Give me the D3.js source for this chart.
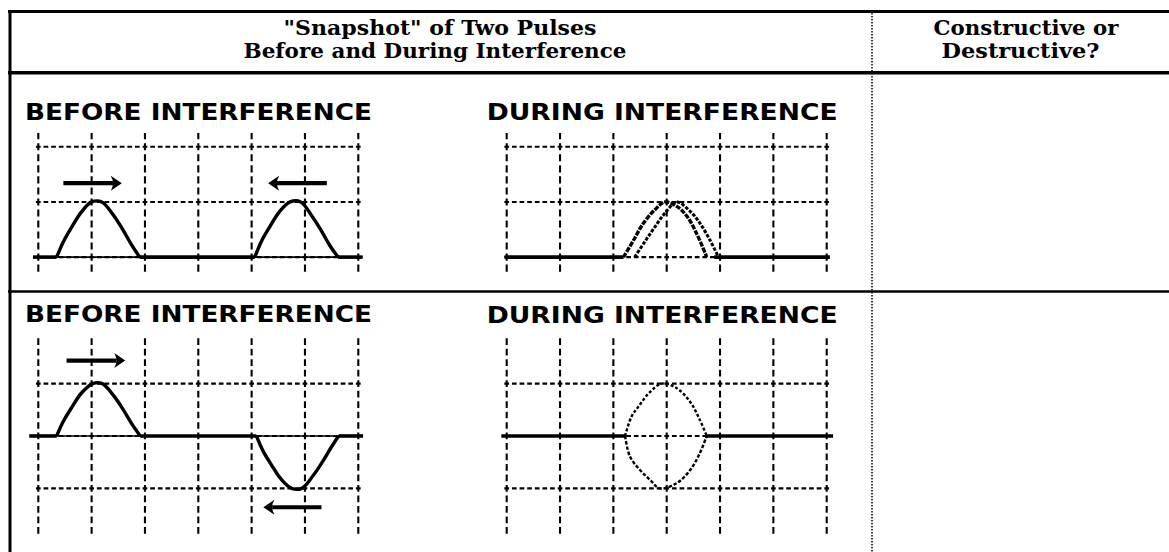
<!DOCTYPE html>
<html><head><meta charset="utf-8">
<script src="https://cdn.jsdelivr.net/npm/d3@7"></script>
<style>html,body{margin:0;padding:0;background:#fff;} svg{display:block;}</style>
</head><body>
<svg id="chart" width="1169" height="552"></svg>
<script>
// ---------- data ----------
const headerCol1 = ['"Snapshot" of Two Pulses', 'Before and During Interference'];
const headerCol2 = ['Constructive or', 'Destructive?'];
const panelTitles = ['BEFORE INTERFERENCE', 'DURING INTERFERENCE'];
const gridCols = [0, 1, 2, 3, 4, 5, 6];
const row1GridLines = [0, 1, 2];
const row2GridLines = [-1, 0, 1];

const pulseUpY   = [0, 0.28, 0.55, 0.82, 1, 1, 0.76, 0.49, 0.22, 0];
const pulseDownY = [0, -0.28, -0.55, -0.82, -1, -1, -0.76, -0.49, -0.22, 0];

const row1BeforeP1X = [0.345, 0.47, 0.63, 0.81, 1.0, 1.19, 1.41, 1.59, 1.75, 1.9];
const row1BeforeP2X = [4.06, 4.18, 4.34, 4.52, 4.72, 4.92, 5.12, 5.3, 5.46, 5.62];
const row2BeforeP1X = [0.345, 0.47, 0.63, 0.81, 1.02, 1.2, 1.42, 1.6, 1.76, 1.91];
const row2BeforeP2X = [4.09, 4.21, 4.37, 4.55, 4.75, 4.94, 5.15, 5.33, 5.49, 5.63];

const row1DuringAX = [2.19, 2.38, 2.56, 2.78, 2.97, 3.19, 3.38, 3.56, 3.75];
const row1DuringAY = [0, 0.31, 0.61, 0.86, 1, 0.92, 0.74, 0.43, 0];
const row1DuringBX = [2.40, 2.59, 2.78, 2.97, 3.19, 3.44, 3.62, 3.81, 3.97];
const row1DuringBY = [0, 0.28, 0.55, 0.80, 1, 0.83, 0.62, 0.31, 0];

const row2DuringTopX = [2.22, 2.34, 2.47, 2.66, 2.91, 3.19, 3.44, 3.62, 3.75];
const row2DuringTopY = [0, 0.37, 0.56, 0.81, 1, 0.91, 0.65, 0.31, 0];
const row2DuringBotX = [2.22, 2.31, 2.5, 2.69, 2.87, 3.19, 3.44, 3.62, 3.75];
const row2DuringBotY = [0, -0.39, -0.65, -0.84, -1, -0.9, -0.65, -0.33, 0];

// arrows: [fromX, toX(tip), y]
const row1Arrows = [[0.47, 1.565, 1.34], [5.41, 4.31, 1.34]];
const row2Arrows = [[0.53, 1.63, 1.44], [5.31, 4.22, -1.36]];

// ---------- layout ----------
const svg = d3.select('#chart');
const W = 1169, H = 552;
const black = '#000';

// table frame
svg.append('line').attr('x1', 8).attr('x2', W).attr('y1', 11.5).attr('y2', 11.5)
  .attr('stroke', black).attr('stroke-width', 3);
svg.append('line').attr('x1', 8).attr('x2', W).attr('y1', 72.7).attr('y2', 72.7)
  .attr('stroke', black).attr('stroke-width', 3.5);
svg.append('line').attr('x1', 8).attr('x2', W).attr('y1', 291.5).attr('y2', 291.5)
  .attr('stroke', black).attr('stroke-width', 2.5);
svg.append('line').attr('x1', 10).attr('x2', 10).attr('y1', 10).attr('y2', H)
  .attr('stroke', black).attr('stroke-width', 3);
svg.append('line').attr('x1', 872).attr('x2', 872).attr('y1', 13).attr('y2', H)
  .attr('stroke', black).attr('stroke-width', 1.5).attr('stroke-dasharray', '1.5,1.5');

// header text
function headText(str, x, y, w) {
  svg.append('text').attr('x', x).attr('y', y).text(str)
    .attr('font-family', '"DejaVu Serif", serif').attr('font-weight', 'bold')
    .attr('font-size', 19.5).attr('fill', black)
    .attr('textLength', w).attr('lengthAdjust', 'spacingAndGlyphs');
}
headText(headerCol1[0], 283.5, 35, 313);
headText(headerCol1[1], 243.5, 58.3, 383);
headText(headerCol2[0], 933.5, 35, 185);
headText(headerCol2[1], 941.5, 58.3, 158);

// panel title
function panelTitle(str, x, y, w) {
  svg.append('text').attr('x', x).attr('y', y).text(str)
    .attr('font-family', '"DejaVu Sans Condensed", "DejaVu Sans", sans-serif')
    .attr('font-weight', 'bold').attr('font-size', 23).attr('fill', black)
    .attr('textLength', w).attr('lengthAdjust', 'spacingAndGlyphs');
}

const line = d3.line().curve(d3.curveCatmullRom.alpha(0.5));

function drawPanel(p) {
  const g = svg.append('g');
  const x = d3.scaleLinear().domain([0, 6]).range(p.xRange);
  const y = d3.scaleLinear().domain(p.yDomain).range(p.yRange);
  const cellX = x(1) - x(0);
  const cellY = y(0) - y(1);
  const top = y(p.yDomain[1]), bot = y(p.yDomain[0]);

  // vertical dashed grid
  const vP = cellY / 5, vD = vP * 0.64;
  g.selectAll('line.v').data(gridCols).join('line')
    .attr('x1', d => x(d)).attr('x2', d => x(d))
    .attr('y1', top).attr('y2', bot)
    .attr('stroke', black).attr('stroke-width', 2.1)
    .attr('stroke-dasharray', `${vD},${vP - vD}`)
    .attr('stroke-dashoffset', () => {
      const s = y(p.gridLines[0]) - top;
      return (((vD / 2 - s) % vP) + vP) % vP;
    });

  // horizontal dashed grid
  const hP = cellX / 7, hD = hP * 0.62;
  const hx1 = x(-0.06), hx2 = x(6.06);
  g.selectAll('line.h').data(p.gridLines).join('line')
    .attr('x1', hx1).attr('x2', hx2)
    .attr('y1', d => y(d)).attr('y2', d => y(d))
    .attr('stroke', black).attr('stroke-width', 2.1)
    .attr('stroke-dasharray', `${hD},${hP - hD}`)
    .attr('stroke-dashoffset', (((hD / 2 - (x(0) - hx1)) % hP) + hP) % hP);

  // thin solid baseline under pulses (before panels)
  if (p.thinBaseline) {
    g.append('line').attr('x1', x(-0.1)).attr('x2', x(6.08))
      .attr('y1', y(0)).attr('y2', y(0))
      .attr('stroke', black).attr('stroke-width', 1.6);
  }
  // thick baseline segments
  g.selectAll('line.base').data(p.thickSegs).join('line')
    .attr('x1', d => x(d[0])).attr('x2', d => x(d[1]))
    .attr('y1', y(0)).attr('y2', y(0))
    .attr('stroke', black).attr('stroke-width', 3.6);

  // pulses
  p.pulses.forEach(pl => {
    g.append('path')
      .attr('d', line(pl.xs.map((v, i) => [x(v), y(pl.ys[i])])))
      .attr('fill', 'none').attr('stroke', black)
      .attr('stroke-width', pl.w).attr('stroke-linejoin', 'round')
      .attr('stroke-dasharray', pl.dash || null);
  });

  // arrows
  (p.arrows || []).forEach(a => {
    const x1 = x(a[0]), x2 = x(a[1]), yy = y(a[2]);
    const dir = Math.sign(x2 - x1);
    const headL = 11, headH = 7.5;
    g.append('line').attr('x1', x1).attr('x2', x2 - dir * headL * 0.8)
      .attr('y1', yy).attr('y2', yy).attr('stroke', black).attr('stroke-width', 4.2);
    g.append('path')
      .attr('d', `M${x2},${yy} L${x2 - dir * headL},${yy - headH} Q${x2 - dir * headL * 0.6},${yy} ${x2 - dir * headL},${yy + headH} Z`)
      .attr('fill', black);
  });
}

// Row 1 - before
panelTitle(panelTitles[0], 25, 119.5, 347);
drawPanel({
  xRange: [38.3, 358.3], yDomain: [-0.27, 2.25], yRange: [272, 133],
  gridLines: row1GridLines, thinBaseline: true,
  thickSegs: [[-0.1, row1BeforeP1X[0]], [row1BeforeP1X[9], row1BeforeP2X[0]], [row1BeforeP2X[9], 6.08]],
  pulses: [
    { xs: row1BeforeP1X, ys: pulseUpY, w: 3.4 },
    { xs: row1BeforeP2X, ys: pulseUpY, w: 3.4 }
  ],
  arrows: row1Arrows
});

// Row 1 - during
panelTitle(panelTitles[1], 486.7, 119.5, 351);
drawPanel({
  xRange: [506.7, 826.7], yDomain: [-0.27, 2.25], yRange: [272, 133],
  gridLines: row1GridLines, thinBaseline: false,
  thickSegs: [[-0.04, row1DuringAX[0]], [row1DuringBX[8] - 0.08, 6.06]],
  pulses: [
    { xs: row1DuringAX, ys: row1DuringAY, w: 3.4, dash: '5,1.3' },
    { xs: row1DuringBX, ys: row1DuringBY, w: 3.0, dash: '3.5,1.5' }
  ]
});

// Row 2 - before
panelTitle(panelTitles[0], 25, 322, 347);
drawPanel({
  xRange: [38.3, 358.3], yDomain: [-1.89, 1.87], yRange: [535, 338],
  gridLines: row2GridLines, thinBaseline: true,
  thickSegs: [[-0.17, row2BeforeP1X[0]], [row2BeforeP1X[9], row2BeforeP2X[0]], [row2BeforeP2X[9], 6.09]],
  pulses: [
    { xs: row2BeforeP1X, ys: pulseUpY, w: 3.4 },
    { xs: row2BeforeP2X, ys: pulseDownY, w: 3.4 }
  ],
  arrows: row2Arrows
});

// Row 2 - during
panelTitle(panelTitles[1], 486.7, 322.5, 351);
drawPanel({
  xRange: [506.7, 826.7], yDomain: [-1.89, 1.87], yRange: [535, 338],
  gridLines: row2GridLines, thinBaseline: false,
  thickSegs: [[-0.1, row2DuringTopX[0]], [row2DuringTopX[8], 6.12]],
  pulses: [
    { xs: row2DuringTopX, ys: row2DuringTopY, w: 2.4, dash: '3,2' },
    { xs: row2DuringBotX, ys: row2DuringBotY, w: 2.4, dash: '3.5,1.8' }
  ]
});
</script>
</body></html>
